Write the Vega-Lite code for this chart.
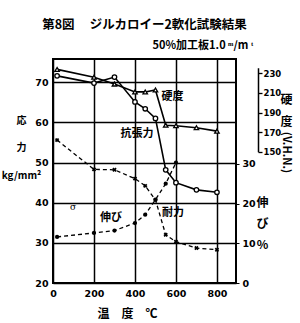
{
  "$schema": "https://vega.github.io/schema/vega-lite/v6.json",
  "width": 183,
  "height": 224,
  "autosize": "none",
  "padding": {"left": 53, "top": 59, "right": 64, "bottom": 40},
  "background": "white",
  "config": {
    "view": {"stroke": "black", "strokeWidth": 2},
    "font": "Noto Sans CJK JP",
    "axis": {
      "labelFont": "DejaVu Sans",
      "labelFontWeight": "bold",
      "labelColor": "black",
      "titleColor": "black",
      "titleFont": "Noto Sans CJK JP",
      "titleFontWeight": "bold",
      "gridColor": "black",
      "gridOpacity": 1,
      "gridWidth": 1.5,
      "domain": false,
      "ticks": false,
      "labelFlush": false
    }
  },
  "title": {"text": "第8図　 ジルカロイー2軟化試験結果", "fontSize": 12.5, "font": "Noto Sans CJK JP", "fontWeight": "bold", "anchor": "middle", "offset": 8, "color": "black"},
  "datasets": {
    "tensile": [
      {"temp": 20, "stress": 71.6}, {"temp": 200, "stress": 69.8}, {"temp": 300, "stress": 71.3},
      {"temp": 400, "stress": 65.1}, {"temp": 450, "stress": 63.4}, {"temp": 500, "stress": 61.0},
      {"temp": 550, "stress": 48.2}, {"temp": 600, "stress": 45.0}, {"temp": 700, "stress": 43.2},
      {"temp": 800, "stress": 42.6}
    ],
    "yield": [
      {"temp": 20, "stress": 55.6}, {"temp": 200, "stress": 48.3}, {"temp": 300, "stress": 48.2},
      {"temp": 400, "stress": 46.0}, {"temp": 450, "stress": 44.2}, {"temp": 500, "stress": 40.7},
      {"temp": 550, "stress": 32.0}, {"temp": 600, "stress": 30.3}, {"temp": 700, "stress": 28.7},
      {"temp": 800, "stress": 28.3}
    ],
    "hardness": [
      {"temp": 20, "hv": 234}, {"temp": 200, "hv": 226}, {"temp": 300, "hv": 219},
      {"temp": 400, "hv": 211}, {"temp": 450, "hv": 211}, {"temp": 500, "hv": 213},
      {"temp": 550, "hv": 177}, {"temp": 600, "hv": 176.5}, {"temp": 700, "hv": 174.5},
      {"temp": 800, "hv": 171}
    ],
    "elong": [
      {"temp": 20, "pct": 11.6}, {"temp": 200, "pct": 12.6}, {"temp": 300, "pct": 13.2},
      {"temp": 400, "pct": 15.1}, {"temp": 450, "pct": 17.2}, {"temp": 500, "pct": 21.0},
      {"temp": 550, "pct": 25.0}, {"temp": 600, "pct": 30.3}
    ],
    "labels": [
      {"label": "硬度", "temp": 583, "stress": 66.3},
      {"label": "抗張力", "temp": 410, "stress": 57.1},
      {"label": "伸び", "temp": 283, "stress": 36.2},
      {"label": "耐力", "temp": 586, "stress": 37.4}
    ],
    "marks": [
      {"label": "σ", "temp": 98, "stress": 38.9}
    ]
  },
  "layer": [
    {
      "encoding": {
        "x": {"field": "temp", "type": "quantitative", "scale": {"domain": [0, 893], "nice": false, "zero": false},
          "axis": {"orient": "bottom", "values": [0, 200, 400, 600, 800], "grid": true, "title": "温　度　℃",
            "titleFontSize": 12, "titleX": 74, "titleY": 30, "titleAlign": "center", "titleBaseline": "middle",
            "labelFontSize": 9.5, "labelPadding": 5}},
        "y": {"field": "stress", "type": "quantitative", "scale": {"domain": [20, 75.8], "nice": false, "zero": false},
          "axis": {"orient": "left", "values": [20, 30, 40, 50, 60, 70], "grid": true, "title": ["応", "力", "kg/mm²"],
            "titleAngle": 0, "titleX": -32, "titleY": 56, "titleAlign": "center", "titleBaseline": "top",
            "titleFontSize": 10, "titleLineHeight": 27.5, "labelFontSize": 9.5, "labelPadding": 5}}
      },
      "layer": [
        {"data": {"name": "tensile"}, "mark": {"type": "line", "color": "black", "strokeWidth": 1.6}},
        {"data": {"name": "tensile"}, "mark": {"type": "point", "shape": "circle", "filled": true, "fill": "white", "stroke": "black", "strokeWidth": 1.3, "size": 20, "opacity": 1}},
        {"data": {"name": "yield"}, "mark": {"type": "line", "color": "black", "strokeWidth": 1.3, "strokeDash": [4, 3]}},
        {"data": {"name": "yield"}, "mark": {"type": "point", "shape": "cross", "angle": 45, "filled": true, "color": "black", "size": 20, "opacity": 1}},
        {"data": {"name": "labels"}, "mark": {"type": "text", "fontSize": 11, "fontWeight": "bold", "color": "black", "font": "Noto Sans CJK JP"}, "encoding": {"text": {"field": "label"}}},
        {"data": {"name": "marks"}, "mark": {"type": "text", "fontSize": 9, "color": "black", "font": "DejaVu Serif"}, "encoding": {"text": {"field": "label"}}}
      ]
    },
    {
      "data": {"name": "hardness"},
      "encoding": {
        "x": {"field": "temp", "type": "quantitative", "axis": null},
        "y": {"field": "hv", "type": "quantitative", "scale": {"domain": [16, 244.6], "nice": false, "zero": false},
          "axis": {"orient": "right", "offset": 22, "values": [150, 170, 190, 210, 230], "grid": false,
            "domain": true, "domainColor": "black", "domainWidth": 1.5, "domainDash": [0, 131.3, 84, 300],
            "ticks": true, "tickColor": "black", "tickSize": 4, "tickWidth": 1.3,
            "labelFontSize": 8.5, "labelPadding": 1,
            "title": ["硬", "度"], "titleAngle": 0, "titleX": 28, "titleY": 35, "titleAlign": "center", "titleBaseline": "top",
            "titleFontSize": 12, "titleLineHeight": 22}}
      },
      "layer": [
        {"mark": {"type": "line", "color": "black", "strokeWidth": 1.6}},
        {"mark": {"type": "point", "shape": "triangle-up", "filled": true, "fill": "white", "stroke": "black", "strokeWidth": 1.3, "size": 20, "opacity": 1}}
      ]
    },
    {
      "data": {"name": "elong"},
      "encoding": {
        "x": {"field": "temp", "type": "quantitative", "axis": null},
        "y": {"field": "pct", "type": "quantitative", "scale": {"domain": [0, 56.4], "nice": false, "zero": false},
          "axis": {"orient": "right", "values": [0, 10, 20, 30], "grid": false, "ticks": true, "tickSize": 3, "tickColor": "black",
            "labelFontSize": 9.5, "labelPadding": 3,
            "title": ["伸", "び", "%"], "titleAngle": 0, "titleX": 26, "titleY": 138, "titleAlign": "center", "titleBaseline": "top",
            "titleFontSize": 12, "titleLineHeight": 21}}
      },
      "layer": [
        {"mark": {"type": "line", "color": "black", "strokeWidth": 1.3, "strokeDash": [4, 3]}},
        {"mark": {"type": "point", "shape": "circle", "filled": true, "color": "black", "size": 18, "opacity": 1}}
      ]
    },
    {
      "data": {"name": "hardness"},
      "mark": {"type": "point", "opacity": 0},
      "encoding": {
        "x": {"field": "temp", "type": "quantitative",
          "axis": {"orient": "top", "labels": false, "ticks": false, "domain": false, "grid": false,
            "title": "50%加工板1.0 ᵐ/m ᵗ", "titleX": 99, "titleY": -14, "titleAlign": "left", "titleBaseline": "middle", "titleFontSize": 11}},
        "y": {"field": "hv", "type": "quantitative", "scale": {"domain": [16, 244.6], "nice": false, "zero": false},
          "axis": {"orient": "right", "offset": 22, "labels": false, "ticks": false, "domain": false, "grid": false,
            "title": "(V.H.N.)", "titleAngle": 90, "titleX": 27, "titleY": 93, "titleAlign": "center", "titleBaseline": "middle", "titleFontSize": 11}}
      }
    }
  ],
  "resolve": {"scale": {"y": "independent"}, "axis": {"x": "independent"}}
}
